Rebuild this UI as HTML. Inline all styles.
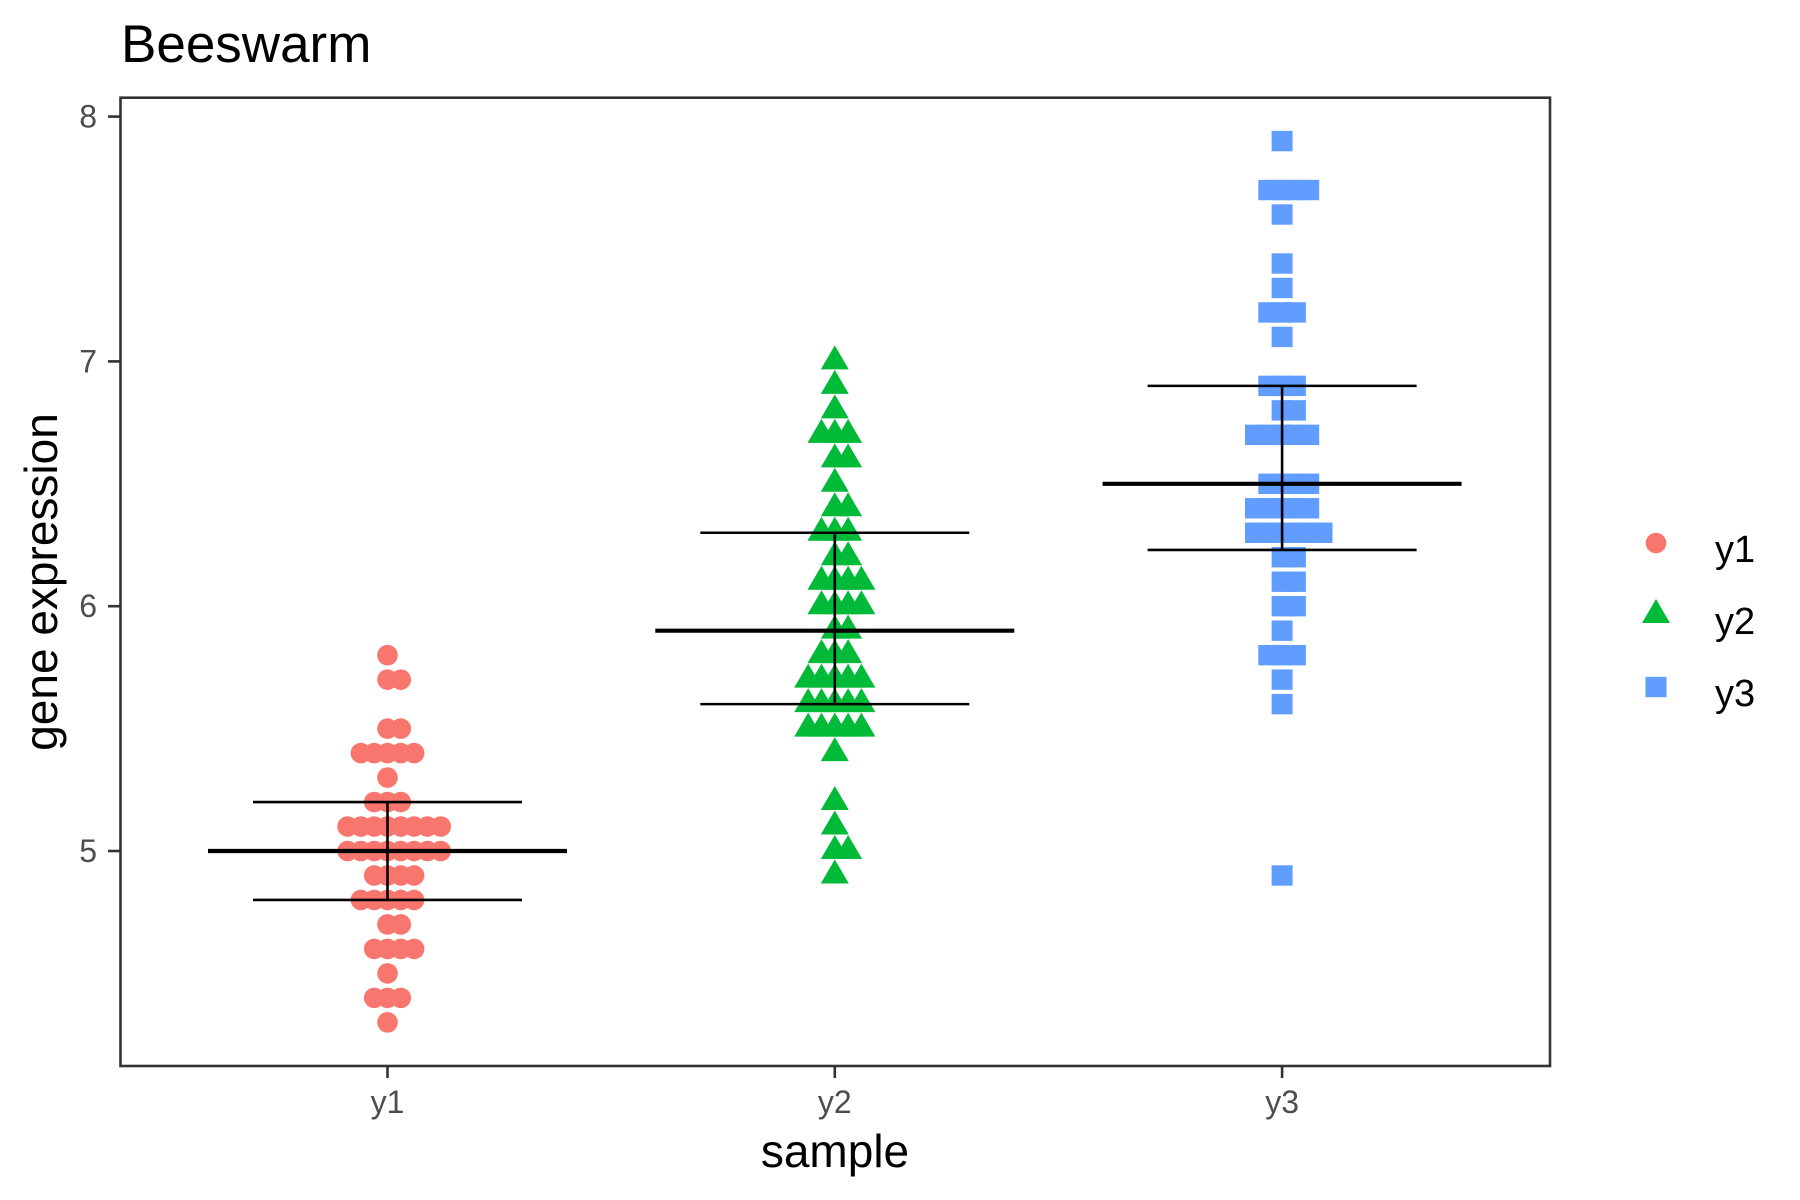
<!DOCTYPE html>
<html><head><meta charset="utf-8"><style>
html,body{margin:0;padding:0;background:#fff;}
svg{display:block;font-family:"Liberation Sans",Arial,sans-serif;}
</style></head><body>
<svg id="chart" width="1800" height="1200" viewBox="0 0 1800 1200" xmlns="http://www.w3.org/2000/svg">
<rect x="0" y="0" width="1800" height="1200" fill="#fff"/>
<text x="121" y="62" font-size="53" fill="#000">Beeswarm</text>
<g id="marks"></g>
<g id="stats"></g>
<rect x="120.5" y="97.7" width="1429.5" height="968.3" fill="none" stroke="#333" stroke-width="2.6"/>
<g id="axes"></g>
<text x="835" y="1167" font-size="46" text-anchor="middle" fill="#000">sample</text>
<text transform="translate(57,582) rotate(-90)" font-size="46" text-anchor="middle" fill="#000">gene expression</text>
<g id="legend"></g>
</svg>
<script>
const categories = ["y1","y2","y3"];
const colors = ["#F8766D","#00BA38","#619CFF"];
const y1Values = [5.8,5.7,5.7,5.5,5.5,5.4,5.4,5.4,5.4,5.4,5.3,5.2,5.2,5.2,
 5.1,5.1,5.1,5.1,5.1,5.1,5.1,5.1,5.0,5.0,5.0,5.0,5.0,5.0,5.0,5.0,
 4.9,4.9,4.9,4.9,4.8,4.8,4.8,4.8,4.8,4.7,4.7,4.6,4.6,4.6,4.6,4.5,4.4,4.4,4.4,4.3];
const y2Values = [7.0,6.9,6.8,6.7,6.7,6.7,6.6,6.6,6.5,6.4,6.4,6.3,6.3,6.3,6.2,6.2,
 6.1,6.1,6.1,6.1,6.0,6.0,6.0,6.0,5.9,5.9,5.8,5.8,5.8,5.7,5.7,5.7,5.7,5.7,
 5.6,5.6,5.6,5.6,5.6,5.5,5.5,5.5,5.5,5.5,5.4,5.2,5.1,5.0,5.0,4.9];
const y3Values = [7.9,7.7,7.7,7.7,7.7,7.6,7.4,7.3,7.2,7.2,7.2,7.1,6.9,6.9,6.9,6.8,6.8,
 6.7,6.7,6.7,6.7,6.7,6.5,6.5,6.5,6.5,6.4,6.4,6.4,6.4,6.4,6.3,6.3,6.3,6.3,6.3,6.3,
 6.2,6.2,6.1,6.1,6.0,6.0,5.9,5.8,5.8,5.8,5.7,5.6,4.9];
const means = [5.0,5.9,6.5];
const lowers = [4.8,5.6,6.23];
const uppers = [5.2,6.3,6.9];
const yTicks = [5,6,7,8];

const NS = "http://www.w3.org/2000/svg";
function yScale(v){ return 851 - (v-5)*244.8; }
function xScale(i){ return 387.5 + i*447.3; }
const STEP = 13.3;
function mk(tag, attrs, parent){ const e=document.createElementNS(NS,tag); for(const k in attrs) e.setAttribute(k,attrs[k]); parent.appendChild(e); return e; }
const marks=document.getElementById('marks');
const series=[y1Values,y2Values,y3Values];
function drawMarker(shape,cx,cy,color,parent){
  let e;
  if(shape===0) e=mk('circle',{cx:cx,cy:cy,r:10.3,fill:color},parent);
  else if(shape===1) e=mk('polygon',{points:`${cx},${cy-16} ${cx-14},${cy+8} ${cx+14},${cy+8}`,fill:color},parent);
  else e=mk('rect',{x:cx-10.5,y:cy-10.2,width:21,height:20.4,fill:color},parent);
  return e;
}
series.forEach((vals,si)=>{
  const groups={};
  vals.forEach(v=>{ const k=v.toFixed(2); (groups[k]=groups[k]||[]).push(v); });
  Object.keys(groups).forEach(k=>{
    const g=groups[k]; const n=g.length;
    const start = (n%2===1) ? -(n-1)/2 : -(n/2-1);
    g.forEach((v,j)=>{
      const e=drawMarker(si, xScale(si)+(start+j)*STEP, yScale(v), colors[si], marks);
      
      
    });
  });
});
const stats=document.getElementById('stats');
categories.forEach((c,i)=>{
  const cx=xScale(i);
  let e=mk('line',{x1:cx,x2:cx,y1:yScale(uppers[i]),y2:yScale(lowers[i]),stroke:'#000','stroke-width':2.6},stats);
  
  
  e=mk('line',{x1:cx-134.5,x2:cx+134.5,y1:yScale(uppers[i]),y2:yScale(uppers[i]),stroke:'#000','stroke-width':2.6},stats);
  
  
  e=mk('line',{x1:cx-134.5,x2:cx+134.5,y1:yScale(lowers[i]),y2:yScale(lowers[i]),stroke:'#000','stroke-width':2.6},stats);
  
  
  e=mk('line',{x1:cx-179.5,x2:cx+179.5,y1:yScale(means[i]),y2:yScale(means[i]),stroke:'#000','stroke-width':4.2},stats);
  
  
});
const axes=document.getElementById('axes');
yTicks.forEach(t=>{
  const y=yScale(t);
  let e=mk('line',{x1:108,x2:120.5,y1:y,y2:y,stroke:'#333','stroke-width':2.6},axes);
  
  
  e=mk('text',{x:97,y:y+11,'font-size':32,'text-anchor':'end',fill:'#4d4d4d'},axes);
  e.textContent=t;
  
  
});
categories.forEach((c,i)=>{
  const x=xScale(i);
  let e=mk('line',{x1:x,x2:x,y1:1066,y2:1078,stroke:'#333','stroke-width':2.6},axes);
  
  
  e=mk('text',{x:x,y:1113,'font-size':32,'text-anchor':'middle',fill:'#4d4d4d'},axes);
  e.textContent=c;
  
  
});
const legend=document.getElementById('legend');
categories.forEach((c,i)=>{
  const cy=543+i*72;
  const m=drawMarker(i,1656,cy,colors[i],legend);
  
  
  const t=mk('text',{x:1715,y:cy+19,'font-size':38,fill:'#000'},legend);
  t.textContent=c;
  
  
});
</script>
</body></html>
